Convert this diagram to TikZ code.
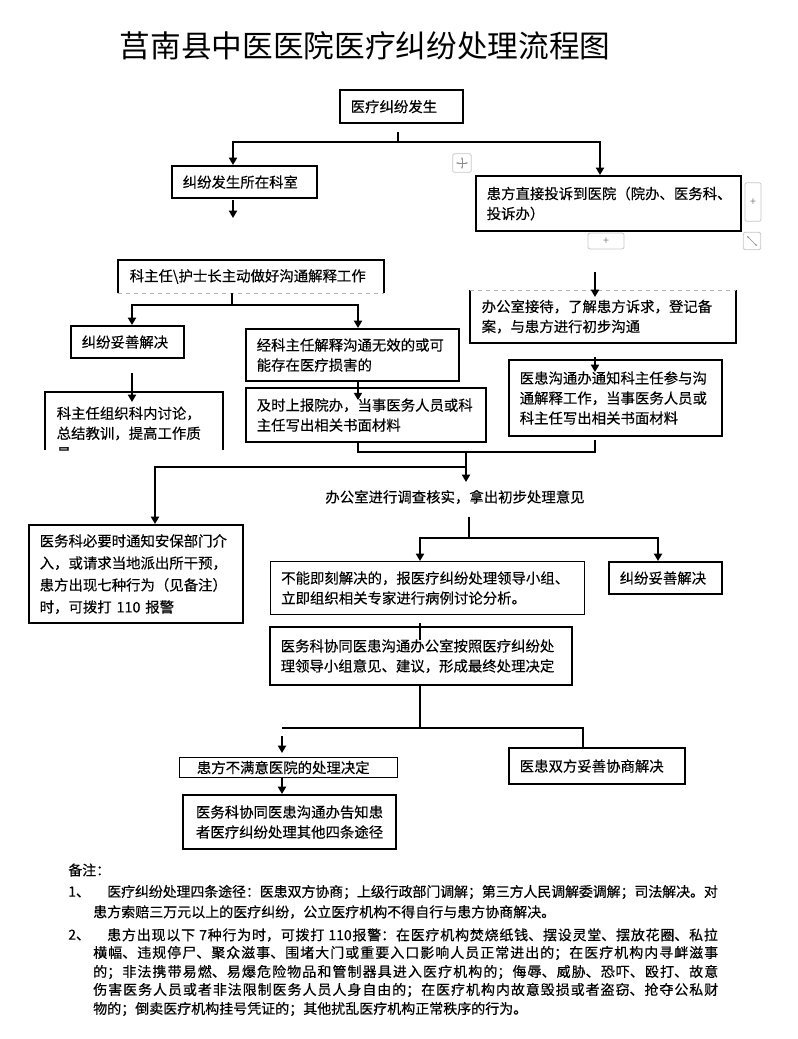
\documentclass[tikz,border=0pt]{standalone}
\usepackage{fontspec}
\setmainfont{Noto Sans CJK SC}
\newfontfamily\boxfam{Noto Sans CJK SC}[FakeBold=0.25]
\newfontfamily\notefam{Noto Sans CJK SC}[FakeBold=0.4]
\usetikzlibrary{arrows.meta}
\newcommand{\boxfont}{\boxfam\fontsize{10.8}{15}\selectfont}
\newcommand{\notefont}{\notefam\fontsize{10.5}{14}\selectfont}
\newcommand{\flowbox}[7]{%
	\pgfmathsetmacro{\fbw}{(#5-#3)*0.75-16}%
	\pgfmathsetmacro{\fbh}{(#6-#4)*0.75}%
	\node[#2, anchor=north west, text width=\fbw pt, minimum height=\fbh pt]
	(#1) at (#3,#4) {#7};%
}
\newcommand{\jline}[2]{%
	\parbox{#1}{\XeTeXlinebreaklocale "zh"\XeTeXlinebreakskip=0pt plus 1pt minus .3pt\relax
		\parfillskip=0pt\noindent #2}%
}
\tikzset{
	tbox/.style={draw, line width=1.6pt, inner xsep=8pt, inner ysep=0pt, align=left, font=\boxfont},
	nbox/.style={tbox, line width=0.8pt},
	openbox/.style={tbox, draw=none},
	sideline/.style={line width=1.6pt},
	pagebreak/.style={draw=black!30, dashed, line width=0.5pt},
	conn/.style={line width=1.4pt},
	arr/.style={conn, -{Triangle[width=6pt,length=5.5pt]}},
	handle/.style={draw=black!22, line width=0.6pt, rounded corners=1.5pt, fill=white, text=black!50, font=\footnotesize, inner sep=0pt},
	note/.style={anchor=west, font=\notefont, inner sep=0pt}
}

\begin{document}
\begin{tikzpicture}[x=0.75pt, y=-0.75pt, line join=miter]
	\useasboundingbox (0,0) rectangle (798,1039);
	
	% -- Title ---------------------------------------------------
	\node[font=\fontsize{23}{28}\selectfont] (title) at (365,46) {莒南县中医医院医疗纠纷处理流程图};
	
	% -- Start and the two entry routes --------------------------
	\flowbox{occur}{tbox}{339}{89}{462}{122}{医疗纠纷发生}
	\flowbox{dept}{tbox}{171}{165}{316}{197}{纠纷发生所在科室}
	\flowbox{direct}{tbox}{475}{175}{740}{230}{患方直接投诉到医院（院办、医务科、\\投诉办）}
	
	% editor handles
	\node[handle, minimum size=14pt] (move) at (462,163) {};
	\draw[black!45, line width=.5pt, {Stealth[length=2pt]}-{Stealth[length=2pt]}]
	([xshift=-4.5pt]move.center) -- ([xshift=4.5pt]move.center);
	\draw[black!45, line width=.5pt, {Stealth[length=2pt]}-{Stealth[length=2pt]}]
	([yshift=-4.5pt]move.center) -- ([yshift=4.5pt]move.center);
	\node[handle, minimum width=12pt, minimum height=29pt] (plusR) at (753,202) {+};
	\node[handle, minimum width=27pt, minimum height=12pt] (plusB) at (606,241) {+};
	\node[handle, minimum size=13pt] (resize) at (752,241) {};
	\draw[black!45, line width=.5pt, -{Stealth[length=2pt]}] (resize.center) -- ++(-5,-5);
	\draw[black!45, line width=.5pt, -{Stealth[length=2pt]}] (resize.center) -- ++(5,5);
	
	% -- Department side -----------------------------------------
	\flowbox{talk}{openbox}{118}{260}{382}{291}{科主任\textbackslash 护士长主动做好沟通解释工作}
	\draw[sideline] (talk.south west) -- (talk.north west) -- (talk.north east) -- (talk.south east);
	\draw[pagebreak] (talk.south west) -- (talk.south east);
	
	\flowbox{okL}{tbox}{70}{325}{183}{357}{纠纷妥善解决}
	\begin{scope}
		\clip (30,380) rectangle (240,450);
		\flowbox{lesson}{openbox}{45}{392}{221}{472}{科主任组织科内讨论，\\总结教训，提高工作质\\量}
	\end{scope}
	\draw[sideline] (lesson.north west) ++(0,58) -- (lesson.north west) -- (lesson.north east) -- ++(0,58);
	
	\flowbox{invalid}{tbox}{245}{328}{458}{380}{经科主任解释沟通无效的或可\\能存在医疗损害的}
	\flowbox{report}{tbox}{245}{387}{485}{441}{及时上报院办，当事医务人员或科\\主任写出相关书面材料}
	
	% -- Complaint office side -----------------------------------
	\flowbox{recept}{openbox}{470}{290}{734}{341}{办公室接待，了解患方诉求，登记备\\案，与患方进行初步沟通}
	\draw[sideline] (recept.north west) -- (recept.south west) -- (recept.south east) -- (recept.north east);
	\draw[pagebreak] (recept.north west) -- (recept.north east);
	\flowbox{notify}{tbox}{508}{359}{721}{435}{医患沟通办通知科主任参与沟\\通解释工作，当事医务人员或\\科主任写出相关书面材料}
	
	% -- Investigation -------------------------------------------
	\flowbox{security}{tbox, font=\boxfam\fontsize{10.8}{16.5}\selectfont}{28}{524}{242}{622}{医务科必要时通知安保部门介\\入，或请求当地派出所干预，\\患方出现七种行为（见备注）\\时，可拨打 110 报警}
	\node[font=\boxfont, inner sep=0pt] (check) at (455,497) {办公室进行调查核实，拿出初步处理意见};
	\flowbox{expert}{nbox}{270}{561}{584}{614}{不能即刻解决的，报医疗纠纷处理领导小组、\\立即组织相关专家进行病例讨论分析。}
	\flowbox{okR}{tbox}{608}{561}{721}{593}{纠纷妥善解决}
	\flowbox{decide}{tbox}{269}{626}{571}{684}{医务科协同医患沟通办公室按照医疗纠纷处\\理领导小组意见、建议，形成最终处理决定}
	
	% -- Outcome -------------------------------------------------
	\flowbox{unsat}{nbox}{179}{757}{397}{777}{\hspace*{5pt}患方不满意医院的处理决定}
	\flowbox{ways}{tbox, align=center}{182}{794}{395}{848}{医务科协同医患沟通办告知患\\者医疗纠纷处理其他四条途径}
	\flowbox{agree}{tbox}{508}{747}{684}{783}{医患双方妥善协商解决}
	
	% -- Connectors: start split ---------------------------------
	\coordinate (s0) at (398,132);
	\coordinate (sm) at (398,142);
	\coordinate (sl) at (233,142);
	\coordinate (sr) at (600,142);
	\draw[conn] (s0) -- (sm);
	\draw[arr] (sm) -- (sl) -- (sl |- dept.north);
	\draw[arr] (sm) -- (sr) -- (sr |- direct.north);
	\coordinate (d0) at (233,200);
	\draw[arr] (d0) -- ++(0,18);
	
	% right column
	\coordinate (r0) at (595,272);
	\draw[arr] (r0) -- ++(0,25);
	\coordinate (r1) at (595,357);
	\draw[arr] (r1) -- ++(0,15);
	
	% department split
	\coordinate (k1) at (232,305);
	\coordinate (kl) at (132,305);
	\coordinate (kr) at (358,305);
	\draw[conn] (k1 |- talk.south) -- (k1);
	\draw[arr] (k1) -- (kl) -- (kl |- okL.north);
	\draw[arr] (k1) -- (kr) -- (kr |- invalid.north);
	\coordinate (q0) at (132,373);
	\draw[arr] (q0) -- ++(0,29);
	\draw[arr] (kr |- invalid.south) -- ++(0,18);
	
	% merge into investigation
	\coordinate (m0) at (358,452);
	\coordinate (m1) at (595,452);
	\coordinate (mc) at (466,452);
	\coordinate (mh) at (466,467);
	\coordinate (ml) at (155,467);
	\draw[conn] (kr |- report.south) -- (m0) -- (m1) -- ++(0,-12);
	\draw[arr] (mc) -- ++(0,30);
	\draw[arr] (mh) -- (ml) -- (ml |- security.north);
	
	% investigation split
	\coordinate (c0) at (469,517);
	\coordinate (c1) at (469,538);
	\coordinate (cl) at (420,538);
	\coordinate (cr) at (658,538);
	\draw[conn] (c0) -- (c1);
	\draw[arr] (c1) -- (cl) -- (cl |- expert.north);
	\draw[arr] (c1) -- (cr) -- (cr |- okR.north);
	\coordinate (e0) at (420,623);
	\draw[conn] (e0) -- ++(0,17);
	
	% decision split
	\coordinate (f1) at (420,728);
	\coordinate (fl) at (282,728);
	\coordinate (fr) at (583,728);
	\draw[conn] (f1 |- decide.south) -- (f1) -- (fl);
	\draw[conn] (f1) -- (fr) -- (fr |- agree.north);
	\coordinate (g0) at (282,736);
	\draw[arr] (g0) -- ++(0,17);
	\draw[arr] (g0 |- unsat.south) -- (g0 |- ways.north);
	
	% -- Remarks -------------------------------------------------
	\node[note] (remark) at (68,870) {备注：};
	\node[note] (n1) at (68,892) {1、};
	\node[note] (n1a) at (107,892) {\jline{458pt}{医疗纠纷处理四条途径：医患双方协商；上级行政部门调解；第三方人民调解委调解；司法解决。对}};
	\node[note] (n1b) at (93,912) {患方索赔三万元以上的医疗纠纷，公立医疗机构不得自行与患方协商解决。};
	\node[note] (n2) at (68,935) {2、};
	\node[note] (n2a) at (107,935) {\jline{458pt}{患方出现以下 7种行为时，可拨打 110报警：在医疗机构焚烧纸钱、摆设灵堂、摆放花圈、私拉}};
	\foreach \yy/\txt in {953/{横幅、违规停尸、聚众滋事、围堵大门或重要入口影响人员正常进出的；在医疗机构内寻衅滋事},
		972/{的；非法携带易燃、易爆危险物品和管制器具进入医疗机构的；侮辱、威胁、恐吓、殴打、故意},
		990/{伤害医务人员或者非法限制医务人员人身自由的；在医疗机构内故意毁损或者盗窃、抢夺公私财}}{%
		\node[note] (n2-\yy) at (93,\yy) {\jline{468.75pt}{\txt}};
	}
	\node[note] (n2f) at (93,1009) {物的；倒卖医疗机构挂号凭证的；其他扰乱医疗机构正常秩序的行为。};
	
\end{tikzpicture}
\end{document}
